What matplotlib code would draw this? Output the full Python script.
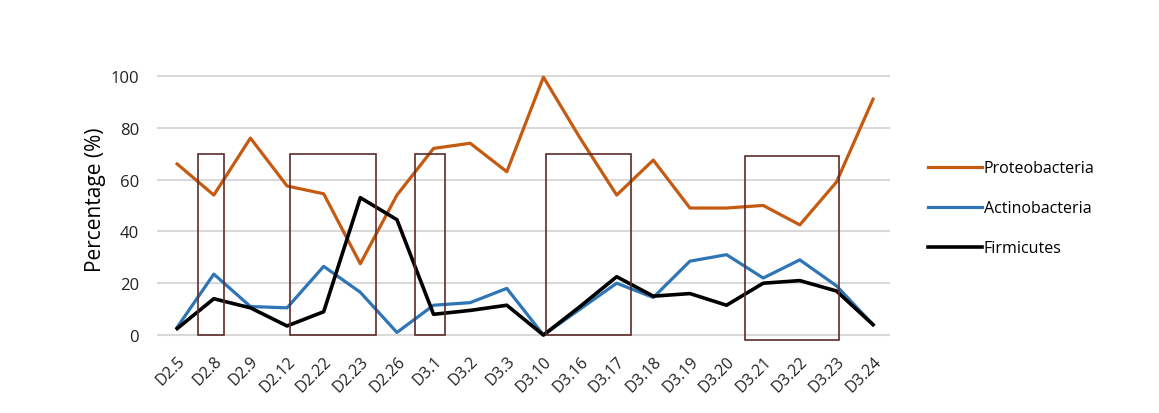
import matplotlib.pyplot as plt
from matplotlib.patches import Rectangle

samples = ['D2.5', 'D2.8', 'D2.9', 'D2.12', 'D2.22', 'D2.23', 'D2.26', 'D3.1', 'D3.2', 'D3.3',
           'D3.10', 'D3.16', 'D3.17', 'D3.18', 'D3.19', 'D3.20', 'D3.21', 'D3.22', 'D3.23', 'D3.24']
proteobacteria = [66, 54, 76, 57.5, 54.5, 27.5, 54, 72, 74, 63,
                  99.5, 76, 54, 67.5, 49, 49, 50, 42.5, 59, 91]
actinobacteria = [3, 23.5, 11, 10.5, 26.5, 16.5, 1, 11.5, 12.5, 18,
                  0, 10, 20, 14.5, 28.5, 31, 22, 29, 19, 4]
firmicutes = [2.5, 14, 10.5, 3.5, 9, 53, 44.5, 8, 9.5, 11.5,
              0, 11, 22.5, 15, 16, 11.5, 20, 21, 17, 4]
# highlight boxes: (start, end) in category positions, top, bottom
boxes = [(0.57, 1.28, 70, 0), (3.09, 5.44, 70, 0), (6.5, 7.3, 70, 0),
         (10.08, 12.4, 70, 0), (15.5, 18.06, 69, -2)]

plt.rcParams['font.family'] = ['Open Sans', 'DejaVu Sans']

fig = plt.figure(figsize=(11.59, 4.14), dpi=100)
ax = fig.add_axes([0.1355, 0.157, 0.632, 0.72])

x = list(range(len(samples)))
ax.plot(x, proteobacteria, color='#C55A11', lw=2.3, label='Proteobacteria')
ax.plot(x, actinobacteria, color='#2E75B6', lw=2.3, label='Actinobacteria')
ax.plot(x, firmicutes, color='black', lw=2.6, label='Firmicutes')

for x0, x1, top, bot in boxes:
    ax.add_patch(Rectangle((x0, bot), x1 - x0, top - bot, fill=False,
                           edgecolor='#5C2B2B', lw=1.2, zorder=5))

ax.set_xlim(-0.55, 19.45)
ax.set_ylim(-5, 110)
ax.set_yticks([0, 20, 40, 60, 80, 100])
ax.yaxis.grid(True, color='#D9D9D9', lw=1.5)
ax.set_axisbelow(True)
for s in ax.spines.values():
    s.set_visible(False)
ax.tick_params(axis='both', length=0, colors='#222222')
ax.tick_params(axis='y', pad=13, labelsize=12)
ax.set_xticks(x)
ax.set_xticklabels(samples, rotation=45, ha='right', rotation_mode='anchor', fontsize=11.5)
ax.set_ylabel('Percentage (%)', fontsize=15, labelpad=3)

fig.legend(loc='upper left', bbox_to_anchor=(0.788, 0.645), frameon=False,
           fontsize=11.5, handlelength=3.4, handletextpad=0.1, labelspacing=1.5)

plt.savefig('out.png', dpi=100)
